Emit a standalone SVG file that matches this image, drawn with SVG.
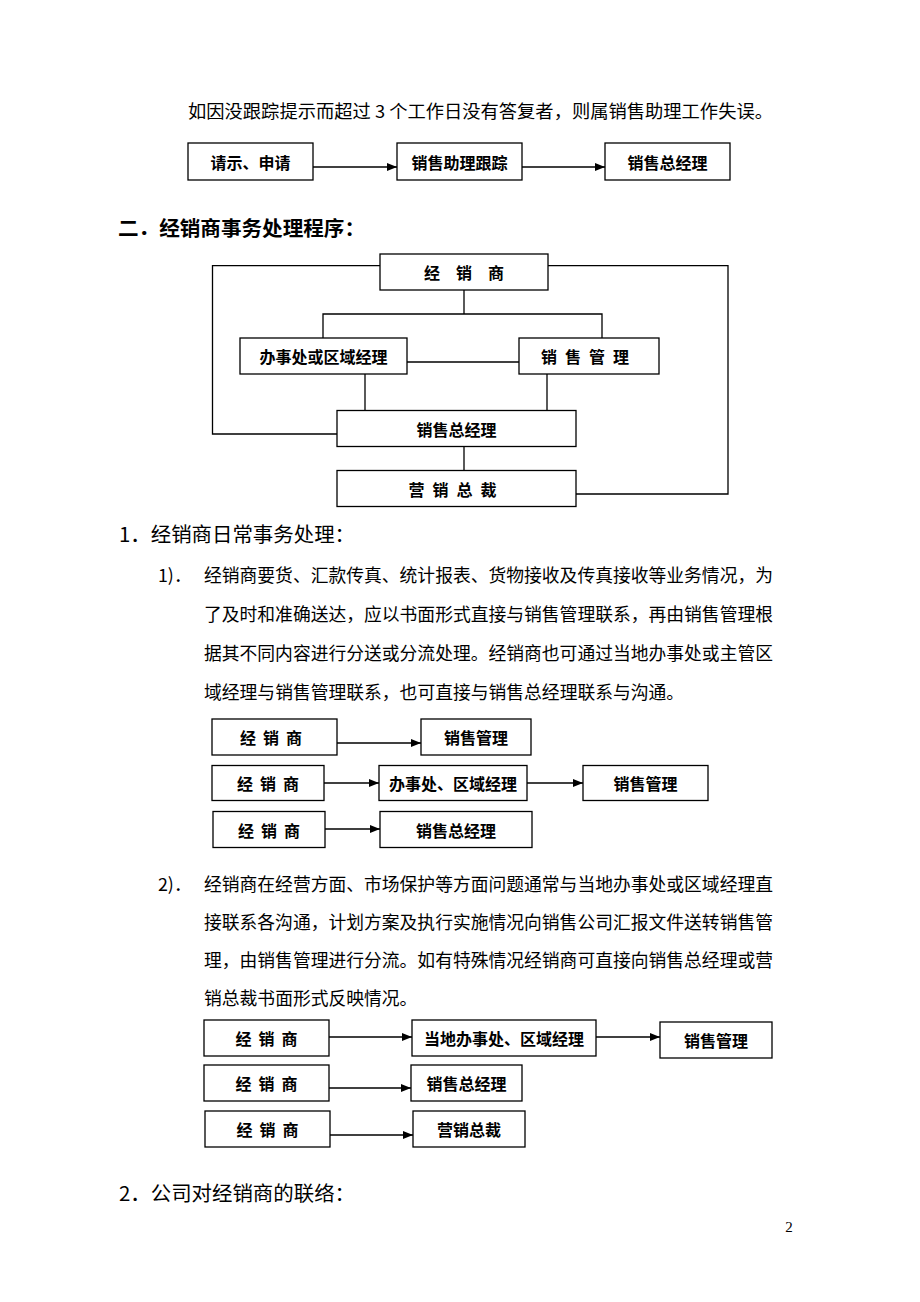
<svg xmlns="http://www.w3.org/2000/svg" width="920" height="1302" viewBox="0 0 920 1302">
<style>
.box{fill:#fff;stroke:#000;stroke-width:1.3}
.ln{fill:none;stroke:#000;stroke-width:1.3}
.ar{fill:none;stroke:#000;stroke-width:1.3;marker-end:url(#ah)}
.lbl{font-family:"Noto Sans CJK SC",sans-serif;font-weight:bold;font-size:16px;text-anchor:middle;dominant-baseline:central;fill:#000}
.body{font-family:"Noto Sans CJK SC",sans-serif;font-size:17.8px;dominant-baseline:central;fill:#000}
.h1{font-family:"Noto Sans CJK SC",sans-serif;font-size:20px;font-weight:bold;dominant-baseline:central;fill:#000}
.h2{font-family:"Noto Sans CJK SC",sans-serif;font-size:20px;dominant-baseline:central;fill:#000}
</style>
<defs>
<marker id="ah" markerUnits="userSpaceOnUse" markerWidth="10" markerHeight="8" refX="10" refY="4" orient="auto">
<path d="M0,0 L10,4 L0,8 z" fill="#000"/>
</marker>
</defs>
<rect width="920" height="1302" fill="#fff"/>

<text class="body" x="188" y="110" font-size="18" textLength="585" lengthAdjust="spacingAndGlyphs">如因没跟踪提示而超过 3 个工作日没有答复者，则属销售助理工作失误。</text>

<g id="n-qingshi"><rect class="box" x="188" y="143" width="125" height="37"/><text class="lbl" x="250.5" y="161.5">请示、申请</text></g>
<g id="n-zhuli"><rect class="box" x="397" y="143" width="125" height="37"/><text class="lbl" x="459.5" y="161.5">销售助理跟踪</text></g>
<g id="n-zjl0"><rect class="box" x="605" y="143" width="125" height="37"/><text class="lbl" x="667.5" y="161.5">销售总经理</text></g>

<text class="h1" x="118" y="227" textLength="247" lengthAdjust="spacingAndGlyphs">二．经销商事务处理程序：</text>

<g id="d-jxs"><rect class="box" x="380" y="254" width="168" height="36"/><text class="lbl" x="464" y="272">经　销　商</text></g>
<g id="d-bsc"><rect class="box" x="240" y="338" width="167" height="36"/><text class="lbl" x="323.5" y="356">办事处或区域经理</text></g>
<g id="d-xsgl"><rect class="box" x="519" y="338" width="140" height="36"/><text class="lbl" x="589" y="356" letter-spacing="8">销售管理</text></g>
<g id="d-zjl"><rect class="box" x="337" y="410.5" width="239" height="36"/><text class="lbl" x="456.5" y="428.5">销售总经理</text></g>
<g id="d-yxzc"><rect class="box" x="337" y="470.5" width="239" height="36"/><text class="lbl" x="456.5" y="488.5" letter-spacing="8">营销总裁</text></g>

<g id="connectors">
<polyline class="ln" points="380,265.7 212.5,265.7 212.5,434 337,434"/>
<polyline class="ln" points="548,265.7 728,265.7 728,494 576,494"/>
<polyline class="ln" points="464,290 464,314"/>
<polyline class="ln" points="323,338 323,314 602,314 602,338"/>
<line class="ln" x1="407" y1="362" x2="519" y2="362"/>
<line class="ln" x1="365" y1="374" x2="365" y2="410.5"/>
<line class="ln" x1="547" y1="374" x2="547" y2="410.5"/>
<line class="ln" x1="464" y1="446.5" x2="464" y2="470.5"/>

<line class="ar" x1="313" y1="167" x2="397" y2="167"/>
<line class="ar" x1="522" y1="167" x2="605" y2="167"/>

<line class="ar" x1="337" y1="743" x2="421" y2="743"/>
<line class="ar" x1="324" y1="783" x2="379" y2="783"/>
<line class="ar" x1="527" y1="783" x2="583" y2="783"/>
<line class="ar" x1="325" y1="829" x2="380" y2="829"/>

<line class="ar" x1="329" y1="1037" x2="412" y2="1037"/>
<line class="ar" x1="596" y1="1037" x2="660" y2="1037"/>
<line class="ar" x1="329" y1="1088" x2="411" y2="1088"/>
<line class="ar" x1="330" y1="1135" x2="413" y2="1135"/>
</g>

<text class="h2" x="119" y="533" textLength="236" lengthAdjust="spacingAndGlyphs">1．经销商日常事务处理：</text>

<text class="body" x="158" y="574" font-size="18">1)．</text>
<text class="body" x="204" y="574" textLength="569" lengthAdjust="spacingAndGlyphs">经销商要货、汇款传真、统计报表、货物接收及传真接收等业务情况，为</text>
<text class="body" x="204" y="613" textLength="569" lengthAdjust="spacingAndGlyphs">了及时和准确送达，应以书面形式直接与销售管理联系，再由销售管理根</text>
<text class="body" x="204" y="652" textLength="569" lengthAdjust="spacingAndGlyphs">据其不同内容进行分送或分流处理。经销商也可通过当地办事处或主管区</text>
<text class="body" x="204" y="691">域经理与销售管理联系，也可直接与销售总经理联系与沟通。</text>

<g id="r1a-jxs"><rect class="box" x="212" y="719" width="125" height="36"/><text class="lbl" x="274.5" y="737" letter-spacing="7">经销商</text></g>
<g id="r1a-xsgl"><rect class="box" x="421" y="719" width="110" height="36"/><text class="lbl" x="476" y="737">销售管理</text></g>
<g id="r1b-jxs"><rect class="box" x="212" y="765.5" width="112" height="35"/><text class="lbl" x="271.5" y="783" letter-spacing="7">经销商</text></g>
<g id="r1b-bsc"><rect class="box" x="379" y="765.5" width="148" height="35"/><text class="lbl" x="453" y="783">办事处、区域经理</text></g>
<g id="r1b-xsgl"><rect class="box" x="583" y="765.5" width="125" height="35"/><text class="lbl" x="645.5" y="783">销售管理</text></g>
<g id="r1c-jxs"><rect class="box" x="213" y="811.5" width="112" height="36"/><text class="lbl" x="272.5" y="829.5" letter-spacing="7">经销商</text></g>
<g id="r1c-zjl"><rect class="box" x="380" y="811.5" width="152" height="36"/><text class="lbl" x="456" y="829.5">销售总经理</text></g>

<text class="body" x="158" y="883" font-size="18">2)．</text>
<text class="body" x="204" y="883" textLength="569" lengthAdjust="spacingAndGlyphs">经销商在经营方面、市场保护等方面问题通常与当地办事处或区域经理直</text>
<text class="body" x="204" y="921" textLength="569" lengthAdjust="spacingAndGlyphs">接联系各沟通，计划方案及执行实施情况向销售公司汇报文件送转销售管</text>
<text class="body" x="204" y="959" textLength="569" lengthAdjust="spacingAndGlyphs">理，由销售管理进行分流。如有特殊情况经销商可直接向销售总经理或营</text>
<text class="body" x="204" y="997">销总裁书面形式反映情况。</text>

<g id="r2a-jxs"><rect class="box" x="204" y="1020" width="125" height="36"/><text class="lbl" x="270" y="1038" letter-spacing="7">经销商</text></g>
<g id="r2a-bsc"><rect class="box" x="412" y="1020" width="184" height="36"/><text class="lbl" x="504" y="1038">当地办事处、区域经理</text></g>
<g id="r2a-xsgl"><rect class="box" x="660" y="1022" width="112" height="36"/><text class="lbl" x="716" y="1040">销售管理</text></g>
<g id="r2b-jxs"><rect class="box" x="204" y="1065" width="125" height="36"/><text class="lbl" x="270" y="1083" letter-spacing="7">经销商</text></g>
<g id="r2b-zjl"><rect class="box" x="411" y="1065" width="111" height="36"/><text class="lbl" x="466.5" y="1083">销售总经理</text></g>
<g id="r2c-jxs"><rect class="box" x="205" y="1111" width="125" height="36"/><text class="lbl" x="271" y="1129" letter-spacing="7">经销商</text></g>
<g id="r2c-yxzc"><rect class="box" x="413" y="1111" width="112" height="36"/><text class="lbl" x="469" y="1129">营销总裁</text></g>

<text class="h2" x="119" y="1192" textLength="236" lengthAdjust="spacingAndGlyphs">2．公司对经销商的联络：</text>
<text x="789" y="1232" font-family="Liberation Serif, serif" font-size="15" text-anchor="middle" fill="#000">2</text>
</svg>
